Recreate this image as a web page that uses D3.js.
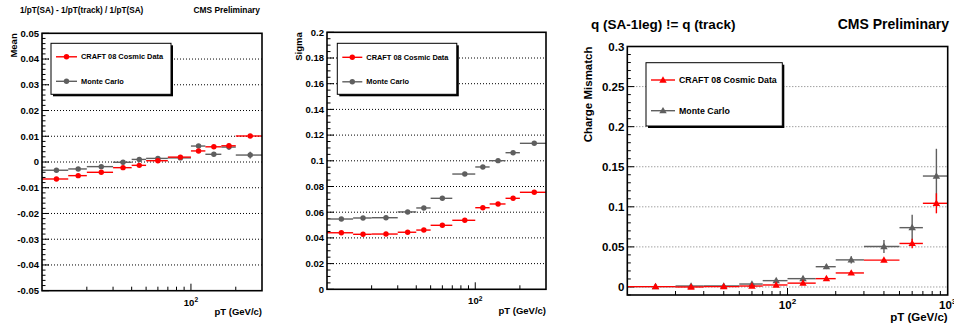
<!DOCTYPE html>
<html>
<head>
<meta charset="utf-8">
<script src="https://cdn.jsdelivr.net/npm/d3@7"></script>
<style>
body { margin: 0; background: #fff; }
text { font-family: "Liberation Sans", Arial, Helvetica, sans-serif; font-weight: bold; fill: #000; }
</style>
</head>
<body>
<script>
const width = 954, height = 324;

// pT bin edges (GeV/c)
const ptBins = [10, 15, 20, 30, 40, 50, 70, 100, 125, 160, 200, 300];
const ptBinsCharge = [10, 20, 30, 50, 70, 100, 150, 200, 300, 500, 700, 1000];

// panel 1: mean of the relative 1/pT difference
const meanData = [-0.0066, -0.0053, -0.0040, -0.0022, -0.0013, 0.0005, 0.0019, 0.0043, 0.0059, 0.0063, 0.0101];
const meanDataErr = [0.0004, 0.0004, 0.0004, 0.0004, 0.0004, 0.0005, 0.0005, 0.0006, 0.0006, 0.0008, 0.0008];
const meanMC = [-0.0032, -0.0027, -0.0018, -0.0001, 0.0010, 0.0014, 0.0016, 0.0062, 0.0030, 0.0058, 0.0027];
const meanMCErr = [0.0003, 0.0003, 0.0003, 0.0003, 0.0004, 0.0004, 0.0005, 0.0005, 0.0008, 0.0010, 0.0013];

// panel 2: sigma
const sigmaData = [0.0440, 0.0428, 0.0430, 0.0444, 0.0461, 0.0498, 0.0537, 0.0635, 0.0664, 0.0708, 0.0755];
const sigmaDataErr = [0.0005, 0.0005, 0.0005, 0.0005, 0.0005, 0.0005, 0.0006, 0.0006, 0.0007, 0.0008, 0.0008];
const sigmaMC = [0.0547, 0.0555, 0.0557, 0.0602, 0.0633, 0.0708, 0.0897, 0.0952, 0.1001, 0.1063, 0.1136];
const sigmaMCErr = [0.0005, 0.0005, 0.0005, 0.0005, 0.0006, 0.0006, 0.0007, 0.0008, 0.0008, 0.0009, 0.0010];

// panel 3: charge mismatch rate
const chargeData = [0.0004, 0.0000, 0.0004, 0.0012, 0.0025, 0.0048, 0.0104, 0.0175, 0.0335, 0.0543, 0.1044];
const chargeDataErr = [0.0005, 0.0005, 0.0005, 0.0010, 0.0015, 0.0020, 0.0020, 0.0020, 0.0020, 0.0060, 0.0125];
const chargeMC = [0.0005, 0.0012, 0.0012, 0.0037, 0.0079, 0.0104, 0.0253, 0.0338, 0.0505, 0.0740, 0.1384];
const chargeMCErr = [0.0005, 0.0010, 0.0010, 0.0020, 0.0020, 0.0030, 0.0030, 0.0045, 0.0080, 0.0160, 0.0340];

// axis tick labels
const meanTicks = [-0.05, -0.04, -0.03, -0.02, -0.01, 0, 0.01, 0.02, 0.03, 0.04, 0.05];
const sigmaTicks = [0, 0.02, 0.04, 0.06, 0.08, 0.1, 0.12, 0.14, 0.16, 0.18, 0.2];
const chargeTicks = [0, 0.05, 0.1, 0.15, 0.2, 0.25, 0.3];

const seriesNames = ['CRAFT 08 Cosmic Data', 'Monte Carlo'];
const seriesColors = ['#ff0000', '#5f5f5f'];

const svg = d3.select('body').append('svg')
    .attr('width', width)
    .attr('height', height);

function panel(o) {
    const x = d3.scaleLog().domain(o.xDomain).range([o.x0, o.x1]);
    const y = d3.scaleLinear().domain(o.yDomain).range([o.y1, o.y0]);
    const g = svg.append('g');

    // dotted grid on major y ticks
    g.append('g').selectAll('line')
        .data(o.yTicks.filter(d => y(d) > o.y0 + 1 && y(d) < o.y1 - 1))
        .enter().append('line')
        .attr('x1', o.x0).attr('x2', o.x1)
        .attr('y1', d => y(d)).attr('y2', d => y(d))
        .attr('stroke', o.gridColor)
        .attr('stroke-width', 1)
        .attr('stroke-dasharray', '1,2');

    // y ticks (inward)
    const minor = d3.range(o.yDomain[0], o.yDomain[1] + 1e-9, o.yMinor)
        .map(d => +d.toFixed(5));
    g.append('g').selectAll('line')
        .data(minor)
        .enter().append('line')
        .attr('x1', o.x0)
        .attr('x2', d => o.yTicks.some(t => Math.abs(t - d) < 1e-6) ? o.x0 + 7 : o.x0 + 3.5)
        .attr('y1', d => y(d)).attr('y2', d => y(d))
        .attr('stroke', '#000');

    g.append('g').selectAll('text')
        .data(o.yTicks)
        .enter().append('text')
        .attr('x', o.x0 - 3)
        .attr('y', d => y(d))
        .attr('dy', '0.35em')
        .attr('text-anchor', 'end')
        .style('font-size', o.tickFont + 'px')
        .text(d => String(+d.toFixed(3)));

    // x ticks (log)
    const xt = x.ticks().filter(d => d > o.xDomain[0] && d < o.xDomain[1]);
    g.append('g').selectAll('line')
        .data(xt)
        .enter().append('line')
        .attr('x1', d => x(d)).attr('x2', d => x(d))
        .attr('y1', o.y1)
        .attr('y2', d => Math.log10(d) % 1 === 0 ? o.y1 - 7 : o.y1 - 4)
        .attr('stroke', '#000');

    const decades = x.ticks().filter(d => Math.log10(d) % 1 === 0 && d > o.xDomain[0]);
    const lab = g.append('g').selectAll('text')
        .data(decades)
        .enter().append('text')
        .attr('x', d => x(d))
        .attr('y', o.y1 + o.xLabelDy)
        .attr('text-anchor', 'middle')
        .style('font-size', o.tickFont + 'px');
    lab.append('tspan').text('10');
    lab.append('tspan')
        .attr('dy', -o.tickFont * 0.4)
        .style('font-size', (o.tickFont * 0.7) + 'px')
        .text(d => Math.round(Math.log10(d)));

    // series: horizontal bin bars, vertical errors, markers
    const sym = d3.symbol().type(d3.symbolTriangle).size(o.markerSize);
    [1, 0].forEach(s => {
        const vals = o.values[s], errs = o.errors[s];
        const rows = vals.map((v, i) => ({v: v, e: errs[i], lo: o.bins[i], hi: o.bins[i + 1]}));
        const sg = g.append('g').attr('stroke', seriesColors[s]).attr('fill', seriesColors[s]);
        sg.selectAll('line.h').data(rows).enter().append('line')
            .attr('x1', d => x(d.lo)).attr('x2', d => x(d.hi))
            .attr('y1', d => y(d.v)).attr('y2', d => y(d.v))
            .attr('stroke-width', 1.4);
        sg.selectAll('line.v').data(rows).enter().append('line')
            .attr('x1', d => x((d.lo + d.hi) / 2)).attr('x2', d => x((d.lo + d.hi) / 2))
            .attr('y1', d => y(d.v - d.e)).attr('y2', d => y(d.v + d.e))
            .attr('stroke-width', 1.4);
        if (o.marker === 'circle') {
            sg.selectAll('circle').data(rows).enter().append('circle')
                .attr('cx', d => x((d.lo + d.hi) / 2))
                .attr('cy', d => y(d.v))
                .attr('r', 2.7)
                .attr('stroke', 'none');
        } else {
            sg.selectAll('path').data(rows).enter().append('path')
                .attr('d', sym)
                .attr('transform', d => 'translate(' + x((d.lo + d.hi) / 2) + ',' + (y(d.v) + 0.5) + ')')
                .attr('stroke', 'none');
        }
    });

    // frame
    g.append('rect')
        .attr('x', o.x0).attr('y', o.y0)
        .attr('width', o.x1 - o.x0).attr('height', o.y1 - o.y0)
        .attr('fill', 'none')
        .attr('stroke', '#000')
        .attr('stroke-width', 1.6);

    // legend with shadow
    const L = o.legend;
    g.append('rect')
        .attr('x', L.x + 2).attr('y', L.y + 2)
        .attr('width', L.w).attr('height', L.h)
        .attr('fill', '#000');
    g.append('rect')
        .attr('x', L.x).attr('y', L.y)
        .attr('width', L.w).attr('height', L.h)
        .attr('fill', '#fff')
        .attr('stroke', '#000');
    seriesNames.forEach((name, s) => {
        const ly = L.y + L.rows[s];
        g.append('line')
            .attr('x1', L.x + 5).attr('x2', L.x + 5 + L.line)
            .attr('y1', ly).attr('y2', ly)
            .attr('stroke', seriesColors[s])
            .attr('stroke-width', 1.4);
        if (o.marker === 'circle') {
            g.append('circle')
                .attr('cx', L.x + 5 + L.line / 2).attr('cy', ly)
                .attr('r', 2.7)
                .attr('fill', seriesColors[s]);
        } else {
            g.append('path')
                .attr('d', sym())
                .attr('transform', 'translate(' + (L.x + 5 + L.line / 2) + ',' + (ly + 0.5) + ')')
                .attr('fill', seriesColors[s]);
        }
        g.append('text')
            .attr('x', L.x + 9 + L.line)
            .attr('y', ly)
            .attr('dy', '0.35em')
            .style('font-size', L.font + 'px')
            .text(name);
    });

    // axis titles
    g.append('text')
        .attr('x', o.x1)
        .attr('y', o.xTitleY)
        .attr('text-anchor', 'end')
        .style('font-size', o.titleFont + 'px')
        .text('pT (GeV/c)');
    g.append('text')
        .attr('transform', 'translate(' + o.yTitleX + ',' + o.y0 + ') rotate(-90)')
        .attr('text-anchor', 'end')
        .style('font-size', o.titleFont + 'px')
        .text(o.yTitle);
}

panel({
    x0: 42, x1: 262, y0: 33.3, y1: 290.7,
    xDomain: [10, 300], yDomain: [-0.05, 0.05],
    yTicks: meanTicks, yMinor: 0.002, gridColor: '#000',
    bins: ptBins, values: [meanData, meanMC], errors: [meanDataErr, meanMCErr],
    marker: 'circle', tickFont: 9.5, titleFont: 9.5, xLabelDy: 15,
    xTitleY: 315, yTitleX: 17, yTitle: 'Mean',
    legend: {x: 51, y: 43.3, w: 120, h: 51, rows: [13.5, 38], line: 21, font: 7.4}
});

panel({
    x0: 327, x1: 546, y0: 32.3, y1: 289.3,
    xDomain: [10, 300], yDomain: [0, 0.2],
    yTicks: sigmaTicks, yMinor: 0.005, gridColor: '#000',
    bins: ptBins, values: [sigmaData, sigmaMC], errors: [sigmaDataErr, sigmaMCErr],
    marker: 'circle', tickFont: 9.5, titleFont: 9.5, xLabelDy: 15,
    xTitleY: 314, yTitleX: 302, yTitle: 'Sigma',
    legend: {x: 337.3, y: 43.3, w: 119.5, h: 51, rows: [14, 38.5], line: 20, font: 7.4}
});

panel({
    x0: 627.3, x1: 947.7, y0: 46.5, y1: 295,
    xDomain: [10, 1000], yDomain: [-0.01, 0.3],
    yTicks: chargeTicks, yMinor: 0.01, gridColor: '#777',
    bins: ptBinsCharge, values: [chargeData, chargeMC], errors: [chargeDataErr, chargeMCErr],
    marker: 'triangle', markerSize: 24, tickFont: 11.5, titleFont: 11.5, xLabelDy: 14,
    xTitleY: 321, yTitleX: 592, yTitle: 'Charge Mismatch',
    legend: {x: 646, y: 62.7, w: 136.3, h: 63.3, rows: [17.3, 48], line: 24, font: 8.8}
});

// titles
svg.append('text').attr('x', 20).attr('y', 13).style('font-size', '8.2px')
    .text('1/pT(SA) - 1/pT(track) / 1/pT(SA)');
svg.append('text').attr('x', 260).attr('y', 13).attr('text-anchor', 'end').style('font-size', '8.4px')
    .text('CMS Preliminary');
svg.append('text').attr('x', 591).attr('y', 29).style('font-size', '13.5px')
    .text('q (SA-1leg) != q (track)');
svg.append('text').attr('x', 949).attr('y', 29).attr('text-anchor', 'end').style('font-size', '14px')
    .text('CMS Preliminary');
</script>
</body>
</html>
